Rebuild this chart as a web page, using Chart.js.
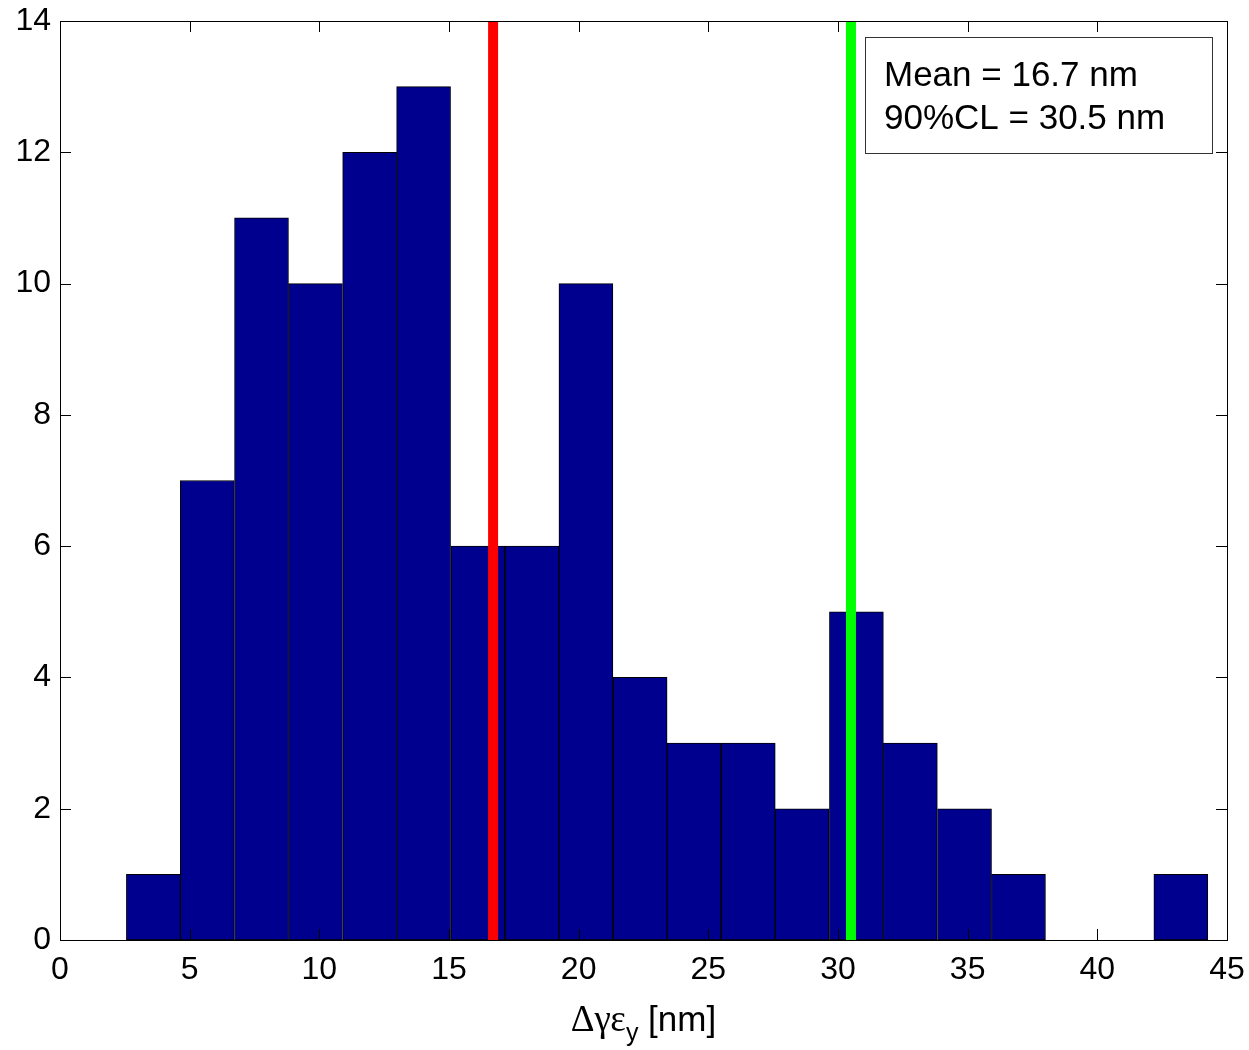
<!DOCTYPE html>
<html>
<head>
<meta charset="utf-8">
<script src="https://cdn.jsdelivr.net/npm/chart.js@4.4.0/dist/chart.umd.min.js"></script>
<style>
  body { margin: 0; background: #fff; }
  #wrap { width: 1249px; height: 1050px; }
</style>
</head>
<body>
<div id="wrap"><canvas id="myChart" width="1249" height="1050"></canvas></div>
<script>
// bin centres (bin width ~2.09 nm)
const binCenters = [3.6, 5.68, 7.77, 9.85, 11.94, 14.02, 16.11, 18.2, 20.28, 22.37,
  24.45, 26.54, 28.62, 30.71, 32.79, 34.88, 36.96, 39.05, 41.13, 43.22];
const counts = [1, 7, 11, 10, 12, 13, 6, 6, 10, 4, 3, 3, 2, 5, 3, 2, 1, 0, 0, 1];
const meanVal = 16.7;
const clVal = 30.5;
const xTicks = [0, 5, 10, 15, 20, 25, 30, 35, 40, 45];
const yTicks = [0, 2, 4, 6, 8, 10, 12, 14];
const boxLines = ['Mean = 16.7 nm', '90%CL = 30.5 nm'];

const FONT = '"Liberation Sans", Arial, sans-serif';

// matlab style box + inward ticks + text box + x label with subscript
const matlabAxes = {
  id: 'matlabAxes',
  afterDraw(chart) {
    const ctx = chart.ctx;
    const a = chart.chartArea;
    const xs = chart.scales.x, ys = chart.scales.y;
    ctx.save();
    ctx.strokeStyle = '#000';
    ctx.lineWidth = 1;
    ctx.beginPath();
    xTicks.forEach(function (t) {
      const px = Math.round(xs.getPixelForValue(t)) + 0.5;
      ctx.moveTo(px, a.bottom); ctx.lineTo(px, a.bottom - 11);
      ctx.moveTo(px, a.top); ctx.lineTo(px, a.top + 11);
    });
    yTicks.forEach(function (t) {
      const py = Math.round(ys.getPixelForValue(t)) + 0.5;
      ctx.moveTo(a.left, py); ctx.lineTo(a.left + 11, py);
      ctx.moveTo(a.right, py); ctx.lineTo(a.right - 11, py);
    });
    ctx.stroke();
    ctx.strokeRect(Math.round(a.left) + 0.5, Math.round(a.top) + 0.5,
      Math.round(a.right - a.left), Math.round(a.bottom - a.top));

    // text box
    ctx.fillStyle = '#fff';
    ctx.fillRect(865, 37, 347, 116);
    ctx.strokeStyle = '#333';
    ctx.strokeRect(865.5, 37.5, 347, 116);
    ctx.fillStyle = '#000';
    ctx.font = '35px ' + FONT;
    ctx.textBaseline = 'alphabetic';
    ctx.textAlign = 'left';
    ctx.fillText(boxLines[0], 884, 86);
    ctx.fillText(boxLines[1], 884, 129);

    // x axis label: Δγε_y [nm]
    const greek = 'Δγε', sub = 'y', rest = ' [nm]';
    ctx.font = '37px "Liberation Serif", serif';
    const w1 = ctx.measureText(greek).width;
    ctx.font = '25px ' + FONT;
    const w2 = ctx.measureText(sub).width;
    ctx.font = '35px ' + FONT;
    const w3 = ctx.measureText(rest).width;
    let x0 = (a.left + a.right) / 2 - (w1 + w2 + w3) / 2;
    const base = 1031;
    ctx.font = '37px "Liberation Serif", serif';
    ctx.fillText(greek, x0, base);
    ctx.font = '25px ' + FONT;
    ctx.fillText(sub, x0 + w1, base + 10);
    ctx.font = '35px ' + FONT;
    ctx.fillText(rest, x0 + w1 + w2, base);
    ctx.restore();
  }
};

const data = {
  datasets: [
    {
      type: 'line',
      label: 'Mean',
      data: [{ x: meanVal, y: 0 }, { x: meanVal, y: 14 }],
      borderColor: '#ff0000',
      borderWidth: 10,
      pointRadius: 0,
      order: 0
    },
    {
      type: 'line',
      label: '90%CL',
      data: [{ x: clVal, y: 0 }, { x: clVal, y: 14 }],
      borderColor: '#00ff00',
      borderWidth: 10,
      pointRadius: 0,
      order: 0
    },
    {
      type: 'bar',
      label: 'counts',
      data: binCenters.map(function (c, i) { return { x: c, y: counts[i] }; }),
      backgroundColor: '#00008f',
      borderColor: '#000',
      borderWidth: 1,
      borderSkipped: false,
      barPercentage: 1,
      categoryPercentage: 1,
      grouped: false,
      order: 1
    }
  ]
};

const config = {
  type: 'bar',
  data: data,
  plugins: [matlabAxes],
  options: {
    responsive: false,
    animation: false,
    layout: { padding: { left: 0, top: 21, right: 22, bottom: 0 } },
    plugins: { legend: { display: false }, tooltip: { enabled: false }, title: { display: false } },
    scales: {
      x: {
        type: 'linear',
        min: 0, max: 45,
        offset: false,
        afterFit: function (s) { s.height = 110; s.paddingLeft = 0; s.paddingRight = 0; },
        afterBuildTicks: function (s) { s.ticks = xTicks.map(function (v) { return { value: v }; }); },
        grid: { display: false, drawTicks: false },
        border: { display: false },
        ticks: { color: '#000', padding: 11, maxRotation: 0, font: { size: 32, family: FONT } }
      },
      y: {
        min: 0, max: 14,
        afterFit: function (s) { s.width = 60; s.paddingTop = 0; s.paddingBottom = 0; },
        afterBuildTicks: function (s) { s.ticks = yTicks.map(function (v) { return { value: v }; }); },
        grid: { display: false, drawTicks: false },
        border: { display: false },
        ticks: { color: '#000', padding: 9, font: { size: 32, family: FONT } }
      }
    }
  }
};

const myChart = new Chart(document.getElementById('myChart').getContext('2d'), config);
</script>
</body>
</html>
